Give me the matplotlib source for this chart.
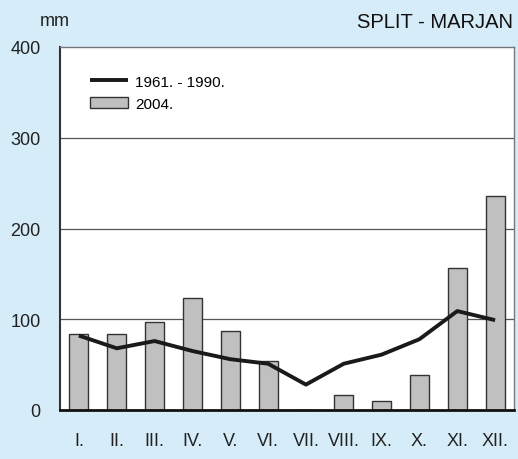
import matplotlib.pyplot as plt
import numpy as np

plt.rcParams['font.family'] = ['Liberation Sans', 'DejaVu Sans']

months = ['I.', 'II.', 'III.', 'IV.', 'V.', 'VI.', 'VII.', 'VIII.', 'IX.', 'X.', 'XI.', 'XII.']
rain_2004 = [84, 84, 97, 123, 87, 54, 0, 17, 10, 39, 157, 236]
rain_norm = [82, 68, 76, 65, 56, 51, 28, 51, 61, 78, 109, 99]
yticks = [0, 100, 200, 300, 400]

bg = '#d6edf9'
fig = plt.figure(figsize=(5.18, 4.6), dpi=100, facecolor=bg)
ax = fig.add_axes([60 / 518, 49 / 460, 454 / 518, 363 / 460])
ax.set_facecolor('white')

x = np.arange(len(months))
ax.bar(x, rain_2004, width=0.5, color='#c0c0c0', edgecolor='#333333', linewidth=1.0,
       label='2004.', zorder=3)
ax.plot(x, rain_norm, color='#1a1a1a', linewidth=2.8, label='1961. - 1990.', zorder=4,
        solid_capstyle='butt')

ax.set_xlim(-0.5, 11.5)
ax.set_ylim(0, 400)
ax.set_yticks(yticks)
ax.set_xticks(x)
ax.set_xticklabels(months)
for yv in yticks[1:4]:
    ax.axhline(yv, color='#555555', linewidth=0.9, zorder=1)

ax.tick_params(axis='both', length=0, labelsize=13, colors='#222222')
ax.tick_params(axis='y', pad=14)
ax.tick_params(axis='x', pad=16)

for side in ['top', 'right']:
    ax.spines[side].set_color('#777777')
    ax.spines[side].set_linewidth(1.0)
ax.spines['left'].set_color('#333333')
ax.spines['left'].set_linewidth(1.5)
ax.spines['bottom'].set_color('#111111')
ax.spines['bottom'].set_linewidth(2.0)
ax.spines['bottom'].set_zorder(5)

ax.legend(loc='upper left', bbox_to_anchor=(0.053, 0.941), frameon=False, fontsize=11,
          handlelength=2.5, handletextpad=0.45, labelspacing=0.55, borderaxespad=0)

fig.text(513 / 518, 1 - 22 / 460, 'SPLIT - MARJAN', ha='right', va='center',
         fontsize=14.5, color='#111111')
fig.text(40 / 518, 1 - 22 / 460, 'mm', ha='left', va='center', fontsize=13, color='#222222')

fig.savefig('out.png', dpi=100, facecolor=bg)
